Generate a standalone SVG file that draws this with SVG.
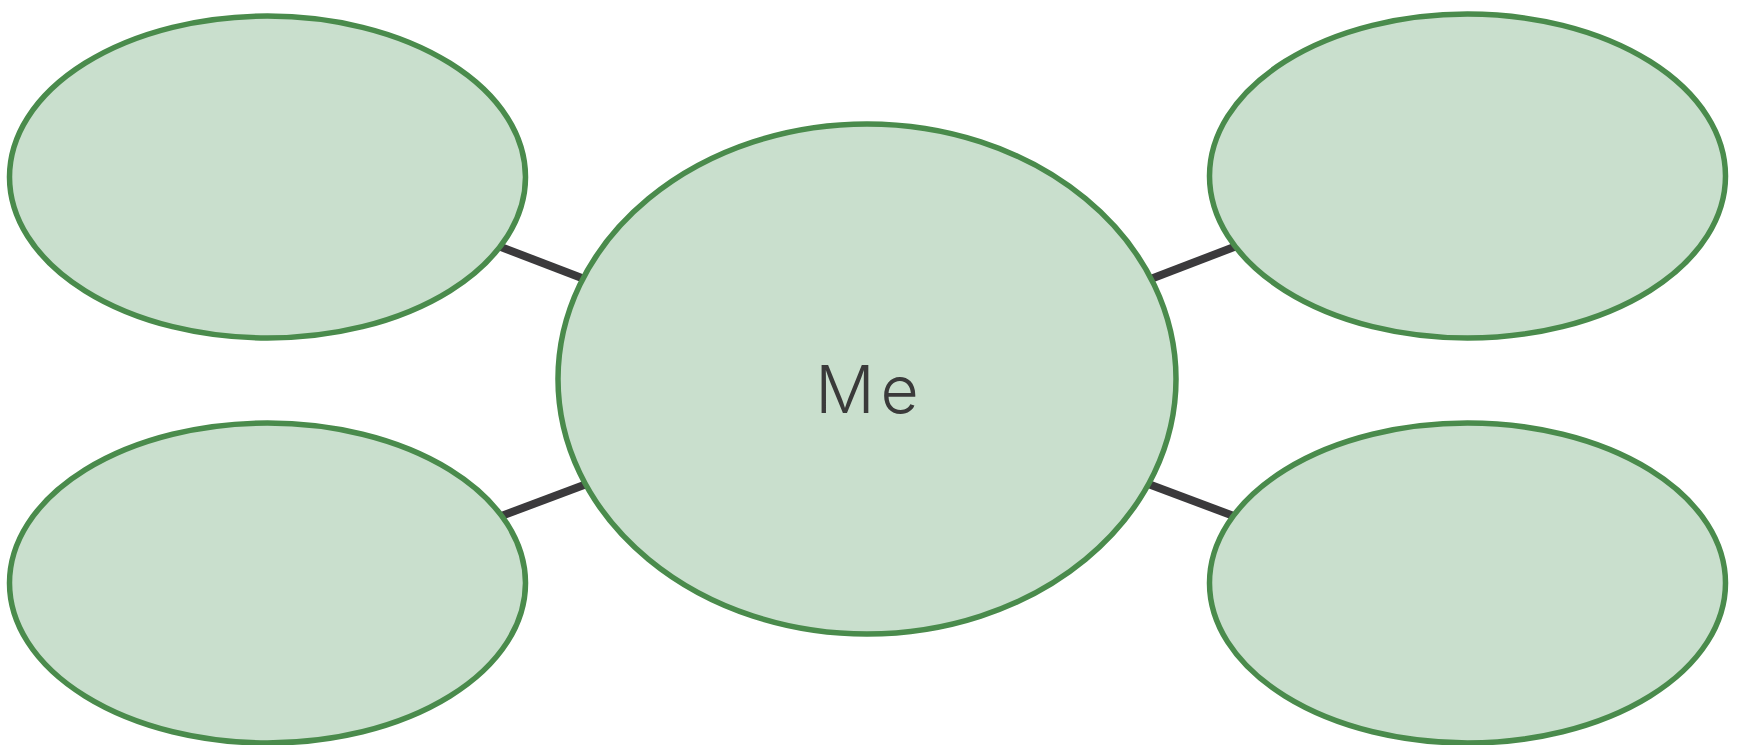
<svg xmlns="http://www.w3.org/2000/svg" width="1739" height="745" viewBox="0 0 1739 745">
<style>
.node{fill:#c9dfcd;stroke:#4a8b4c;stroke-width:5.5}
.conn{stroke:#3b3a3c;stroke-width:8;stroke-linecap:butt}
.lbl{font-family:Inter,"Liberation Sans",Arial,sans-serif;font-weight:300;font-size:66px;letter-spacing:6px;fill:#3a3a3a;text-anchor:middle}
</style>
<rect width="1739" height="745" fill="#ffffff"/>
<g id="connectors">
<line class="conn" x1="480" y1="239" x2="600" y2="285"/>
<line class="conn" x1="480" y1="524" x2="600" y2="479"/>
<line class="conn" x1="1135" y1="285" x2="1255" y2="239"/>
<line class="conn" x1="1135" y1="479" x2="1255" y2="524"/>
</g>
<g id="node-tl"><ellipse class="node" cx="267.5" cy="177" rx="258" ry="161"/></g>
<g id="node-bl"><ellipse class="node" cx="267.5" cy="583" rx="258" ry="160"/></g>
<g id="node-tr"><ellipse class="node" cx="1467.5" cy="176" rx="258" ry="162"/></g>
<g id="node-br"><ellipse class="node" cx="1467.5" cy="583" rx="258" ry="160"/></g>
<g id="node-me">
<ellipse class="node" cx="867" cy="379" rx="309" ry="255"/>
<text class="lbl" x="870" y="413">Me</text>
</g>
</svg>
